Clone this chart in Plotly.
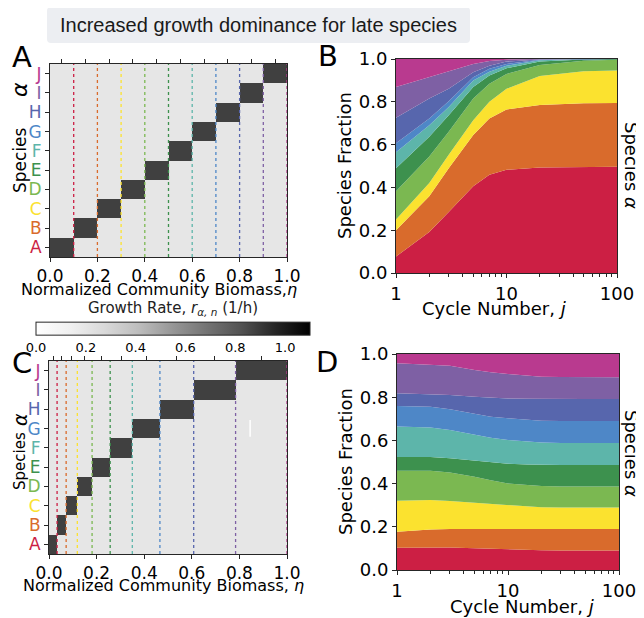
import plotly.graph_objects as go

W, H = 644, 618
OX, OY = 8, 8  # page offset of the figure inside the browser window

# ---------------- data ----------------
species = ["A", "B", "C", "D", "E", "F", "G", "H", "I", "J"]
species_colors = ["#cc1f44", "#d96b2c", "#fbe22f", "#7bb851", "#3d914e",
                  "#5db5aa", "#4e87c7", "#5766ad", "#7e60a4", "#b93a8f"]

# growth-rate maps (panels A and C): biomass windows where each species grows
bounds_A = [0.0, 0.1, 0.2, 0.3, 0.4, 0.5, 0.6, 0.7, 0.8, 0.9, 1.0]
bounds_C = [0.0, 0.034, 0.072, 0.119, 0.181, 0.257, 0.350, 0.466, 0.608, 0.784, 1.0]
rate_high = 0.88
rate_low = 0.2
rate_max = 1.1
cbar_ticks = [0.0, 0.2, 0.4, 0.6, 0.8, 1.0]

# panel B: cumulative species fraction (top edge of each band)
cycles_B = [1, 2, 3, 5, 7, 10, 20, 50, 100]
B_top_A = [0.077, 0.192, 0.285, 0.405, 0.459, 0.482, 0.493, 0.495, 0.496]
B_top_B = [0.200, 0.359, 0.490, 0.645, 0.722, 0.764, 0.785, 0.793, 0.794]
B_top_C = [0.250, 0.420, 0.552, 0.714, 0.800, 0.861, 0.920, 0.943, 0.946]
B_top_D = [0.382, 0.544, 0.660, 0.815, 0.884, 0.930, 0.972, 0.992, 0.997]
B_top_E = [0.490, 0.637, 0.737, 0.869, 0.923, 0.957, 0.988, 0.998, 1.0]
B_top_F = [0.564, 0.691, 0.776, 0.900, 0.941, 0.969, 0.994, 1.0, 1.0]
B_top_G = [0.606, 0.722, 0.802, 0.915, 0.954, 0.977, 0.997, 1.0, 1.0]
B_top_H = [0.725, 0.815, 0.861, 0.938, 0.969, 0.988, 0.998, 1.0, 1.0]
B_top_I = [0.869, 0.915, 0.941, 0.977, 0.991, 0.997, 1.0, 1.0, 1.0]
B_top_J = [1.0, 1.0, 1.0, 1.0, 1.0, 1.0, 1.0, 1.0, 1.0]

# panel D: cumulative species fraction (top edge of each band)
cycles_D = [1, 2, 3, 5, 7, 10, 15, 20, 30, 50, 100]
D_top_A = [0.103, 0.105, 0.104, 0.101, 0.098, 0.096, 0.093, 0.091, 0.090, 0.090, 0.090]
D_top_B = [0.177, 0.188, 0.190, 0.191, 0.191, 0.190, 0.190, 0.190, 0.190, 0.190, 0.190]
D_top_C = [0.321, 0.324, 0.320, 0.312, 0.305, 0.298, 0.293, 0.290, 0.289, 0.289, 0.289]
D_top_D = [0.460, 0.460, 0.451, 0.432, 0.415, 0.401, 0.393, 0.389, 0.387, 0.386, 0.386]
D_top_E = [0.523, 0.523, 0.517, 0.506, 0.498, 0.492, 0.489, 0.487, 0.486, 0.486, 0.486]
D_top_F = [0.664, 0.660, 0.648, 0.625, 0.612, 0.602, 0.594, 0.590, 0.588, 0.588, 0.588]
D_top_G = [0.759, 0.756, 0.744, 0.722, 0.710, 0.702, 0.695, 0.691, 0.690, 0.690, 0.690]
D_top_H = [0.818, 0.815, 0.810, 0.802, 0.797, 0.794, 0.793, 0.792, 0.792, 0.792, 0.792]
D_top_I = [0.957, 0.952, 0.946, 0.926, 0.915, 0.907, 0.900, 0.895, 0.893, 0.892, 0.892]
D_top_J = [1.0] * 11

# small white mark visible in panel C
mark_C_eta = 0.845
mark_C_y = [5.58, 6.44]

B_tops = [B_top_A, B_top_B, B_top_C, B_top_D, B_top_E, B_top_F, B_top_G, B_top_H, B_top_I, B_top_J]
D_tops = [D_top_A, D_top_B, D_top_C, D_top_D, D_top_E, D_top_F, D_top_G, D_top_H, D_top_I, D_top_J]

FONT = "DejaVu Sans"


def px_x(p):
    return (p - OX) / W


def px_y(p):
    return 1 - (p - OY) / H


def rate_matrix(bounds):
    n = len(bounds) - 1
    return [[rate_high if i == k else rate_low for k in range(n)] for i in range(n)]


def centers(bounds):
    return [(bounds[k] + bounds[k + 1]) / 2 for k in range(len(bounds) - 1)]


fig = go.Figure()

# ---------------- panels A and C (heatmaps) ----------------
for bounds, xa, ya, xtop in [(bounds_A, "x", "y", "x5"), (bounds_C, "x2", "y2", "x6")]:
    fig.add_trace(go.Heatmap(
        x=bounds, y=list(range(len(species))), z=rate_matrix(bounds),
        coloraxis="coloraxis", xaxis=xa, yaxis=ya, hoverinfo="skip"))
    for k in range(1, len(bounds)):
        fig.add_trace(go.Scatter(
            x=[bounds[k], bounds[k]], y=[-0.5, len(species) - 0.5], mode="lines",
            line=dict(color=species_colors[k - 1], width=1.3, dash="dot"),
            xaxis=xa, yaxis=ya, showlegend=False, hoverinfo="skip"))
    fig.add_trace(go.Scatter(x=centers(bounds), y=[None] * (len(bounds) - 1), mode="markers",
                             xaxis=xtop, yaxis=ya, showlegend=False, hoverinfo="skip"))

fig.add_trace(go.Scatter(x=[mark_C_eta, mark_C_eta], y=mark_C_y, mode="lines",
                         line=dict(color="white", width=1.5), xaxis="x2", yaxis="y2",
                         showlegend=False, hoverinfo="skip"))

# ---------------- panels B and D (stacked fractions) ----------------
for cycles, tops, xa, ya in [(cycles_B, B_tops, "x3", "y3"), (cycles_D, D_tops, "x4", "y4")]:
    for k, top in enumerate(tops):
        fig.add_trace(go.Scatter(
            x=cycles, y=top, mode="lines", line=dict(width=0, color=species_colors[k]),
            fill="tozeroy" if k == 0 else "tonexty", fillcolor=species_colors[k],
            xaxis=xa, yaxis=ya, showlegend=False, hoverinfo="skip"))

# ---------------- axes ----------------
colored_species = [f"<span style='color:{c}'>{s}</span>" for s, c in zip(species, species_colors)]
num_ticks = [0.0, 0.2, 0.4, 0.6, 0.8, 1.0]
num_text = [f"{v:.1f}" for v in num_ticks]
axcol = "#262626"

common_x = dict(showline=True, linecolor=axcol, linewidth=1, mirror=True, ticks="outside",
                ticklen=4, tickcolor=axcol, showgrid=False, zeroline=False, automargin=False)
common_y = dict(showline=True, linecolor=axcol, linewidth=1, mirror=True, ticks="outside",
                ticklen=4, tickcolor=axcol, showgrid=False, zeroline=False, automargin=False)

dom_A_x = [px_x(50), px_x(287)]
dom_A_y = [px_y(257), px_y(64)]
dom_C_x = [px_x(49), px_x(287)]
dom_C_y = [px_y(554), px_y(361)]
dom_B_x = [px_x(396), px_x(617)]
dom_B_y = [px_y(273), px_y(59)]
dom_D_x = [px_x(397), px_x(619)]
dom_D_y = [px_y(570), px_y(354)]

minor_log = dict(ticks="outside", ticklen=2.5, tickcolor=axcol,
                 tickvals=[2, 3, 4, 5, 6, 7, 8, 9, 20, 30, 40, 50, 60, 70, 80, 90])

top_axis = dict(side="top", range=[0, 1], showticklabels=False, ticks="outside", ticklen=4,
                tickcolor=axcol, showgrid=False, zeroline=False, showline=False, automargin=False)

fig.update_layout(
    xaxis=dict(domain=dom_A_x, anchor="y", range=[0, 1], tickvals=num_ticks, ticktext=num_text,
               tickfont=dict(size=17, family=FONT, color="black"), **common_x),
    yaxis=dict(domain=dom_A_y, anchor="x", range=[-0.5, 9.5], tickvals=list(range(10)),
               ticktext=colored_species, tickfont=dict(size=17, family=FONT), **common_y),
    xaxis5=dict(overlaying="x", anchor="y", tickvals=centers(bounds_A), **top_axis),
    xaxis2=dict(domain=dom_C_x, anchor="y2", range=[0, 1], tickvals=num_ticks, ticktext=num_text,
                tickfont=dict(size=17, family=FONT, color="black"), **common_x),
    yaxis2=dict(domain=dom_C_y, anchor="x2", range=[-0.5, 9.5], tickvals=list(range(10)),
                ticktext=colored_species, tickfont=dict(size=17, family=FONT), **common_y),
    xaxis6=dict(overlaying="x2", anchor="y2", tickvals=centers(bounds_C), **top_axis),
    xaxis3=dict(domain=dom_B_x, anchor="y3", type="log", range=[0, 2], tickvals=[1, 10, 100],
                ticktext=["1", "10", "100"], tickfont=dict(size=18, family=FONT, color="black"),
                minor=minor_log, **common_x),
    yaxis3=dict(domain=dom_B_y, anchor="x3", range=[0, 1], tickvals=num_ticks, ticktext=num_text,
                tickfont=dict(size=18, family=FONT, color="black"), **common_y),
    xaxis4=dict(domain=dom_D_x, anchor="y4", type="log", range=[0, 2], tickvals=[1, 10, 100],
                ticktext=["1", "10", "100"], tickfont=dict(size=18, family=FONT, color="black"),
                minor=minor_log, **common_x),
    yaxis4=dict(domain=dom_D_y, anchor="x4", range=[0, 1], tickvals=num_ticks, ticktext=num_text,
                tickfont=dict(size=18, family=FONT, color="black"), **common_y),
    coloraxis=dict(
        cmin=0, cmax=rate_max,
        colorscale=[[0, "#ffffff"], [0.125, "#f0f0f0"], [0.25, "#d9d9d9"], [0.375, "#bdbdbd"],
                    [0.5, "#969696"], [0.625, "#737373"], [0.75, "#525252"], [0.875, "#252525"],
                    [1, "#000000"]],
        colorbar=dict(
            orientation="h", x=px_x(173), xanchor="center", y=px_y(303), yanchor="top",
            len=274 / W, lenmode="fraction", thickness=13, thicknessmode="pixels",
            outlinewidth=1, outlinecolor=axcol, xpad=0, ypad=0,
            tickvals=cbar_ticks, ticktext=[f"{v:.1f}" for v in cbar_ticks],
            ticks="",
            tickfont=dict(size=13, family=FONT, color="black"),
            title=dict(text="Growth Rate, <i>r</i><sub><i>α, n</i></sub> (1/h)", side="top",
                       font=dict(size=15, family=FONT, color="#222")),
        ),
    ),
    width=W, height=H, margin=dict(l=0, r=0, t=0, b=0, autoexpand=False),
    paper_bgcolor="white", plot_bgcolor="white", showlegend=False,
    font=dict(family=FONT, color="black"),
)

# ---------------- title box ----------------
x0, x1, y0, y1, r = 47, 470, 7, 43, 4
path = (f"M {px_x(x0 + r)},{px_y(y0)} L {px_x(x1 - r)},{px_y(y0)} "
        f"Q {px_x(x1)},{px_y(y0)} {px_x(x1)},{px_y(y0 + r)} L {px_x(x1)},{px_y(y1 - r)} "
        f"Q {px_x(x1)},{px_y(y1)} {px_x(x1 - r)},{px_y(y1)} L {px_x(x0 + r)},{px_y(y1)} "
        f"Q {px_x(x0)},{px_y(y1)} {px_x(x0)},{px_y(y1 - r)} L {px_x(x0)},{px_y(y0 + r)} "
        f"Q {px_x(x0)},{px_y(y0)} {px_x(x0 + r)},{px_y(y0)} Z")
fig.add_shape(type="path", path=path, xref="paper", yref="paper",
              fillcolor="#eceef2", line=dict(width=0), layer="below")


def ann(text, cx, cy, size, angle=0, family=FONT, color="black"):
    fig.add_annotation(text=text, x=px_x(cx), y=px_y(cy), xref="paper", yref="paper",
                       xanchor="center", yanchor="middle", showarrow=False, textangle=angle,
                       font=dict(size=size, family=family, color=color))


ann("Increased growth dominance for late species", 258, 25, 20, family="Liberation Sans", color="#1a1a1a")

# panel letters
ann("A", 22, 57, 29)
ann("B", 328, 56, 29)
ann("C", 22, 363, 29)
ann("D", 327, 362, 29)

# axis titles, panel A
ann("Normalized Community Biomass,<i>η</i>", 159, 289, 16)
ann("Species", 20, 160, 17, angle=-90)
ann("<i>α</i>", 20, 90, 22, angle=-90)
# panel C
ann("Normalized Community Biomass, <i>η</i>", 163, 585, 16)
ann("Species", 20, 461, 15, angle=-90)
ann("<i>α</i>", 20, 420, 19, angle=-90)
# panel B
ann("Species Fraction", 345, 166, 18, angle=-90)
ann("Cycle Number, <i>j</i>", 494, 308, 18)
ann("Species <i>α</i>", 632, 165, 18, angle=90)
# panel D
ann("Species Fraction", 345, 462, 18, angle=-90)
ann("Cycle Number, <i>j</i>", 522, 606, 18)
ann("Species <i>α</i>", 632, 453, 18, angle=90)

fig.write_html("out.html")
